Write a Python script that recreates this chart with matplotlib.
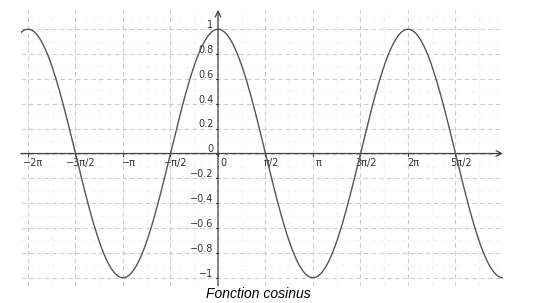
import numpy as np
import matplotlib
matplotlib.use('Agg')
import matplotlib.pyplot as plt

# axis ranges and tick labels
x_min, x_max = -2.0765 * np.pi, 3 * np.pi
y_min, y_max = -1.064, 1.155
x_ticks = [-2, -1.5, -1, -0.5, 0, 0.5, 1, 1.5, 2, 2.5]   # in units of pi
x_labels = ['−2π', '−3π/2', '−π', '−π/2', '0', 'π/2', 'π', '3π/2', '2π', '5π/2']
y_ticks = [1, 0.8, 0.6, 0.4, 0.2, 0, -0.2, -0.4, -0.6, -0.8, -1]
y_labels = ['1', '0.8', '0.6', '0.4', '0.2', '0', '−0.2', '−0.4', '−0.6', '−0.8', '−1']
title = 'Fonction cosinus'

axis_col = '#444444'
curve_col = '#555555'
grid_col = '#cccccc'

fig = plt.figure(figsize=(5.45, 3.03), dpi=100)
ax = fig.add_axes([20.7 / 545, 1 - 285.7 / 303, (503 - 20.7) / 545, (285.7 - 10) / 303])
ax.set_xlim(x_min, x_max)
ax.set_ylim(y_min, y_max)
for s in ax.spines.values():
    s.set_visible(False)
ax.set_xticks([])
ax.set_yticks([])

# grid: faint minor lines, dashed major lines
for k in np.arange(-2, 3.01, 0.5):
    ax.axvline((k + 0.25) * np.pi, color='#f4f4f4', lw=0.8, ls=(0, (4, 3)), zorder=0)
for v in np.arange(-1, 1.01, 0.2):
    ax.axhline(v + 0.1, color='#f4f4f4', lw=0.8, ls=(0, (4, 3)), zorder=0)
for k in x_ticks:
    ax.axvline(k * np.pi, color=grid_col, lw=0.8, ls=(0, (4, 3)), zorder=1)
for v in y_ticks:
    ax.axhline(v, color=grid_col, lw=0.8, ls=(0, (4, 3)), zorder=1)

# axes with arrows
ax.annotate('', xy=(x_max, 0), xytext=(x_min, 0),
            arrowprops=dict(arrowstyle='->', color=axis_col, lw=0.9, shrinkA=0, shrinkB=0))
ax.annotate('', xy=(0, y_max), xytext=(0, y_min),
            arrowprops=dict(arrowstyle='->', color=axis_col, lw=0.9, shrinkA=0, shrinkB=0))

# ticks and labels
for k, lab in zip(x_ticks, x_labels):
    ax.plot([k * np.pi, k * np.pi], [0, -0.022], color=axis_col, lw=0.8)
    ax.annotate(lab, xy=(k * np.pi, 0), xytext=(4, -6.5), textcoords='offset points',
                ha='center', va='center', fontsize=7, color='#333333')
for v, lab in zip(y_ticks, y_labels):
    ax.plot([0, -0.06], [v, v], color=axis_col, lw=0.8)
    ax.annotate(lab, xy=(0, v), xytext=(-3.2, 3.0), textcoords='offset points',
                ha='right', va='center', fontsize=7, color='#333333')

x = np.linspace(x_min, x_max, 1000)
ax.plot(x, np.cos(x), color=curve_col, lw=1.0, zorder=3)

fig.text(258 / 545, 1 - 294 / 303, title, ha='center', va='center', fontsize=10,
         style='italic', family='Liberation Sans', color='black')

fig.savefig('out.png', dpi=100)
